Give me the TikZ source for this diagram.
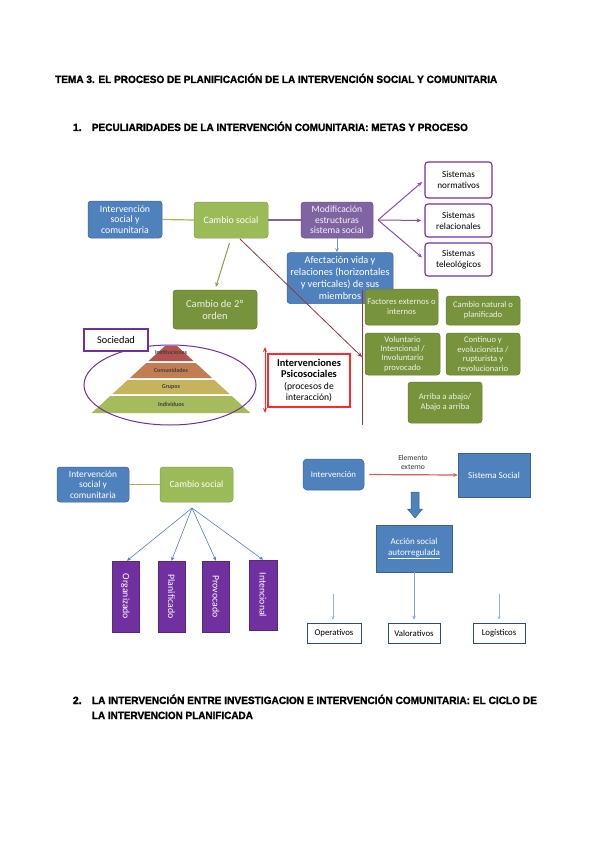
\documentclass[tikz,border=0pt]{standalone}
\usepackage{fontspec}
\setmainfont{Carlito}
\newfontfamily\headfont{Liberation Sans}[BoldFont={Liberation Sans Bold}, BoldFeatures={FakeBold=1.6}]
\usepackage{graphicx}
\usetikzlibrary{arrows.meta}
\definecolor{cblue}{HTML}{4F81BD}
\definecolor{cgreen}{HTML}{9BBB59}
\definecolor{cpurple}{HTML}{8064A2}
\definecolor{colive}{HTML}{77933C}
\definecolor{cviolet}{HTML}{7030A0}
\definecolor{cdred}{HTML}{953735}
\definecolor{cred}{HTML}{FF2A2A}
\definecolor{cpink}{HTML}{C9605C}
\definecolor{clblue}{HTML}{95B3D7}
\definecolor{pinst}{HTML}{B5524E}
\definecolor{pcom}{HTML}{C27D52}
\definecolor{pgrp}{HTML}{C6B45C}
\definecolor{pind}{HTML}{A5BB5E}
\begin{document}
\begin{tikzpicture}[x=1pt,y=-1pt,
  boxbase/.style={rounded corners=3pt, inner sep=1pt, align=center, text=white},
  bluebox/.style={boxbase, fill=cblue, draw=cblue!80!black, line width=0.5pt},
  greenbox/.style={boxbase, fill=cgreen, draw=cgreen!85!black, line width=0.5pt},
  purplebox/.style={boxbase, fill=cpurple, draw=cpurple!85!black, line width=0.5pt, text=white!92!cpurple},
  olivebox/.style={boxbase, fill=colive, draw=colive!85!black, line width=0.5pt, text=white!88!colive},
  sysbox/.style={rounded corners=3pt, fill=white, draw=cviolet, line width=1.1pt, align=center, inner sep=1pt, font=\fontsize{9.2}{11}\selectfont},
  vbox/.style={fill=cviolet, draw=cviolet!80!black, line width=0.5pt, text=white, inner sep=0pt, minimum width=27pt, minimum height=71pt},
  sqblue/.style={fill=cblue, draw=cblue!75!black, line width=0.6pt, text=white, align=center, inner sep=1pt},
  whbox/.style={fill=white, draw=cblue!60!black, line width=0.6pt, inner sep=1pt, minimum height=20pt, font=\fontsize{8.8}{10}\selectfont},
  parrow/.style={draw=cviolet!85!white, line width=1pt, -{Stealth[length=5pt,width=4pt]}},
  barrow/.style={draw=cblue, line width=0.6pt, -{Stealth[length=4pt,width=3.5pt]}},
  lbarrow/.style={draw=clblue, line width=0.6pt, -{Stealth[length=3.5pt,width=3pt]}},
  pyrlab/.style={font=\fontsize{6}{6.5}\selectfont\bfseries, text=black!75, inner sep=0pt},
  headf/.style={anchor=base west, inner sep=0pt, font=\headfont\bfseries\fontsize{10.5}{12}\selectfont}
]
\useasboundingbox (0,0) rectangle (599,848);
\fill[white] (0,0) rectangle (599,848);

% headings
\node[headf] (h1) at (55,83) {\resizebox{442pt}{\height}{TEMA 3. EL PROCESO DE PLANIFICACIÓN DE LA INTERVENCIÓN SOCIAL Y COMUNITARIA}};
\node[headf] (s1n) at (72.7,131) {1.};
\node[headf] (s1) at (91.7,131) {\resizebox{376pt}{\height}{PECULIARIDADES DE LA INTERVENCIÓN COMUNITARIA: METAS Y PROCESO}};
\node[headf] (s2n) at (72.7,704) {2.};
\node[headf] (s2) at (91.7,704) {\resizebox{445pt}{\height}{LA INTERVENCIÓN ENTRE INVESTIGACION E INTERVENCIÓN COMUNITARIA: EL CICLO DE}};
\node[headf] (s2b) at (91.7,719) {\resizebox{161pt}{\height}{LA INTERVENCION PLANIFICADA}};

% ===== top diagram =====
\node[bluebox, minimum width=74pt, minimum height=37pt, font=\fontsize{9.8}{10.8}\selectfont] (int1) at (125,219.5) {Intervención\\social y\\comunitaria};
\node[greenbox, minimum width=74pt, minimum height=36pt, font=\fontsize{9.8}{10.8}\selectfont] (cs1) at (231,220) {Cambio social};
\node[purplebox, minimum width=72pt, minimum height=36pt, font=\fontsize{9.6}{10.6}\selectfont] (mod) at (337,220) {Modificación\\estructuras\\sistema social};
\draw[cgreen, line width=1.2pt] (int1.east) -- (cs1.west);
\draw[cpurple, line width=1.2pt] (cs1.east) -- (mod.west);

\node[sysbox, minimum width=67pt, minimum height=36pt] (sn) at (458.5,180) {Sistemas\\normativos};
\node[sysbox, minimum width=67pt, minimum height=33pt] (sr) at (458.5,220.5) {Sistemas\\relacionales};
\node[sysbox, minimum width=67pt, minimum height=33pt] (st) at (458.5,259.5) {Sistemas\\teleológicos};
\coordinate (mfork) at (378,220);
\draw[parrow, shorten >=3pt] (mfork) -- (sn.west);
\draw[parrow, shorten >=3pt] (mfork) -- (sr.west);
\draw[parrow, shorten >=3pt] (mfork) -- (st.west);

\node[bluebox, minimum width=106pt, minimum height=51pt, font=\fontsize{10.3}{11.8}\selectfont] (afe) at (340,278) {Afectación vida y\\relaciones (horizontales\\y verticales) de sus\\miembros};
\draw[barrow, draw=cblue!80!white] (mod.south) -- (mod.south |- afe.north);

\node[olivebox, minimum width=84pt, minimum height=39pt, font=\fontsize{10.5}{12}\selectfont] (c2o) at (215,309.5) {Cambio de 2º\\orden};
\draw[draw=colive!90!white, line width=1pt, -{Stealth[length=4.5pt,width=4pt]}, shorten <=5pt, shorten >=3pt] (cs1.south) -- (c2o.north);

% red connector and vertical line
\coordinate (rs) at (240,239);
\coordinate (re) at (362,357);
\coordinate (vt) at (362,290);
\coordinate (vb) at (362,425);

\node[olivebox, minimum width=73pt, minimum height=36pt, font=\fontsize{8.6}{10}\selectfont] (fac) at (401.5,307) {Factores externos o\\internos};
\node[olivebox, minimum width=74pt, minimum height=29pt, font=\fontsize{8.6}{10}\selectfont] (cnp) at (483,310.5) {Cambio natural o\\planificado};
\node[olivebox, minimum width=75pt, minimum height=42pt, font=\fontsize{8.6}{9.4}\selectfont] (vol) at (402.5,354) {Voluntario\\Intencional /\\Involuntario\\provocado};
\node[olivebox, minimum width=74pt, minimum height=42pt, font=\fontsize{8.6}{9.4}\selectfont] (con) at (483,354) {Continuo y\\evolucionista /\\rupturista y\\revolucionario};
\node[olivebox, minimum width=74pt, minimum height=41pt, font=\fontsize{8.6}{10}\selectfont] (arr) at (445,402.5) {Arriba a abajo/\\Abajo a arriba};

\draw[cdred, line width=0.8pt] (vt) -- (vb);
\draw[cdred, line width=0.8pt, -{Stealth[length=5pt,width=4pt]}] (rs) -- (re);

% pyramid
\fill[pinst] (165,346) -- (177,346) -- (193.5,361) -- (148.5,361) -- cycle;
\fill[pcom] (146.3,363) -- (195.7,363) -- (212.1,378) -- (129.9,378) -- cycle;
\fill[pgrp] (127.7,380) -- (214.3,380) -- (229.6,394) -- (112.4,394) -- cycle;
\fill[pind] (110.2,396) -- (231.8,396) -- (250.4,413) -- (91.6,413) -- cycle;
\node[pyrlab] (linst) at (171,352) {Instituciones};
\node[pyrlab] (lcom) at (171,370.5) {Comunidades};
\node[pyrlab] (lgrp) at (171,387) {Grupos};
\node[pyrlab] (lind) at (171,404.5) {Individuos};
\draw[cviolet, line width=1pt] (170,385) ellipse [x radius=86pt, y radius=40pt];
\node[fill=white, draw=cviolet, line width=1.1pt, minimum width=64pt, minimum height=22pt, inner sep=1pt, font=\fontsize{10.3}{12}\selectfont] (soc) at (116,340) {Sociedad};

\coordinate (dat) at (265,347);
\coordinate (dab) at (265,413);
\draw[cred, line width=1pt, {Stealth[length=5pt,width=4pt]}-{Stealth[length=5pt,width=4pt]}] (dat) -- (dab);
\node[fill=white, draw=cred, line width=1.1pt, minimum width=82pt, minimum height=53pt, inner sep=1pt, align=center, font=\fontsize{9.6}{11.2}\selectfont] (psi) at (309,380.5) {{\fontsize{10.4}{12}\selectfont\bfseries Intervenciones}\\{\fontsize{10.4}{12}\selectfont\bfseries Psicosociales}\\(procesos de\\interacción)};

% ===== bottom-left diagram =====
\node[bluebox, minimum width=72pt, minimum height=35pt, font=\fontsize{9.4}{10.6}\selectfont] (int2) at (93,484.5) {Intervención\\social y\\comunitaria};
\node[greenbox, minimum width=73pt, minimum height=35pt, font=\fontsize{9.6}{10.5}\selectfont] (cs2) at (196.5,484.5) {Cambio social};
\draw[cgreen, line width=1.1pt] (int2.east) -- (cs2.west);
\node[vbox] (org) at (125.5,596.5) {\rotatebox{-90}{\fontsize{9.8}{10}\selectfont Organizado}};
\node[vbox] (pla) at (171.5,596.5) {\rotatebox{-90}{\fontsize{9.8}{10}\selectfont Planificado}};
\node[vbox] (pro) at (216,596.5) {\rotatebox{-90}{\fontsize{9.8}{10}\selectfont Provocado}};
\node[vbox, minimum width=28pt, minimum height=70pt] (inte) at (263,595) {\rotatebox{-90}{\fontsize{9.8}{10}\selectfont Intencional}};
\coordinate (bfork) at (192,508);
\draw[barrow] (bfork) -- ([xshift=1.5pt]org.north);
\draw[barrow] (bfork) -- (pla.north);
\draw[barrow] (bfork) -- (pro.north);
\draw[barrow] (bfork) -- (inte.north);

% ===== bottom-right diagram =====
\node[bluebox, minimum width=61pt, minimum height=31pt, font=\fontsize{8.8}{10}\selectfont, rounded corners=4pt] (int3) at (333.5,474.5) {Intervención};
\node[sqblue, minimum width=72pt, minimum height=44pt, font=\fontsize{9}{10}\selectfont] (ss) at (494,475) {Sistema Social};
\draw[cpink, line width=1.2pt, -{Stealth[length=4.5pt,width=4pt]}, shorten <=5pt] (int3.east) -- (ss.west);
\node[inner sep=0pt, align=center, font=\fontsize{7.6}{9}\selectfont, text=black!80] (ext) at (413,462) {Elemento\\externo};
\filldraw[fill=cblue, draw=cblue!75!black, line width=0.5pt] (411,492) -- (419,492) -- (419,509) -- (422.5,509) -- (415,518) -- (407.5,509) -- (411,509) -- cycle;
\node[sqblue, minimum width=76pt, minimum height=47pt, font=\fontsize{9}{10.5}\selectfont] (acc) at (414,548.5) {Acción social\\\underline{autorregulada}};
\node[whbox, minimum width=54pt] (ope) at (334,633) {Operativos};
\node[whbox, minimum width=52pt] (val) at (414,633) {Valorativos};
\node[whbox, minimum width=52pt] (log) at (499,633) {Logísticos};
\coordinate (opt) at (333,594);
\coordinate (lgt) at (499,594);
\draw[lbarrow, shorten >=3pt] (opt) -- (opt |- ope.north);
\draw[barrow, draw=cblue!70!white, shorten >=3pt] (acc.south) -- (val.north);
\draw[lbarrow, shorten >=3pt] (lgt) -- (lgt |- log.north);
\end{tikzpicture}
\end{document}
